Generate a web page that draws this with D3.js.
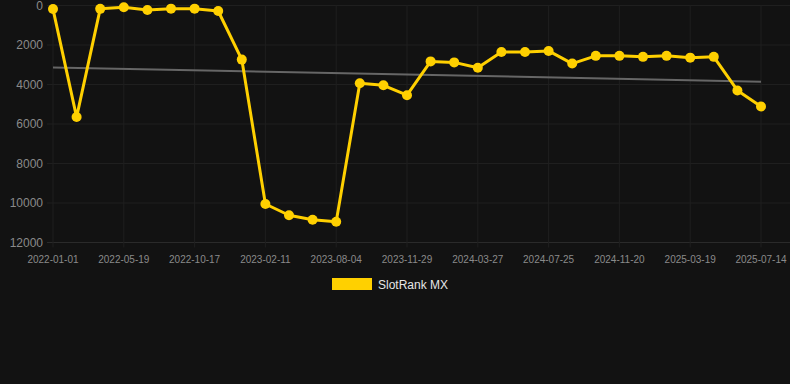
<!DOCTYPE html>
<html>
<head>
<meta charset="utf-8">
<script src="https://cdn.jsdelivr.net/npm/d3@7"></script>
<style>
  html, body { margin: 0; padding: 0; background: #121212; }
  svg { display: block; font-family: "Liberation Sans", Arial, sans-serif; }
</style>
</head>
<body>
<svg id="svg"></svg>
<script>
const W = 790, H = 384;

// categories (only every third one is labelled on the axis)
const dates = [
  "2022-01-01", "2022-02-16", "2022-04-03", "2022-05-19", "2022-07-08", "2022-08-27",
  "2022-10-17", "2022-11-25", "2023-01-03", "2023-02-11", "2023-04-09", "2023-06-06",
  "2023-08-04", "2023-09-12", "2023-10-21", "2023-11-29", "2024-01-07", "2024-02-17",
  "2024-03-27", "2024-05-06", "2024-06-15", "2024-07-25", "2024-09-03", "2024-10-12",
  "2024-11-20", "2024-12-30", "2025-02-07", "2025-03-19", "2025-04-27", "2025-06-05",
  "2025-07-14"
];
const rankMX = [
  180, 5650, 170, 90, 230, 160, 160, 280, 2740, 10050, 10620, 10850,
  10950, 3940, 4040, 4540, 2830, 2880, 3150, 2350, 2350, 2300, 2940, 2550,
  2550, 2600, 2550, 2640, 2600, 4300, 5110
];
const yTicks = [0, 2000, 4000, 6000, 8000, 10000, 12000];
const seriesName = "SlotRank MX";

document.addEventListener("DOMContentLoaded", function () {
  const svg = d3.select("#svg").attr("width", W).attr("height", H);

  const x = d3.scalePoint().domain(dates).range([53, 761]);
  const y = d3.scaleLinear().domain([0, 12000]).range([5.5, 242.5]);
  const labelled = dates.filter((d, i) => i % 3 === 0);

  // grid
  svg.append("g").selectAll("line").data(yTicks).join("line")
    .attr("x1", 47).attr("x2", W)
    .attr("y1", d => y(d)).attr("y2", d => y(d))
    .attr("stroke", d => d === 12000 ? "#2a2a2a" : "#1f1f1f")
    .attr("stroke-width", 1);
  svg.append("g").selectAll("line").data(labelled).join("line")
    .attr("x1", d => x(d)).attr("x2", d => x(d))
    .attr("y1", y(0)).attr("y2", y(12000) + 5)
    .attr("stroke", "#1f1f1f")
    .attr("stroke-width", 1);

  // y labels
  svg.append("g").selectAll("text").data(yTicks).join("text")
    .attr("x", 43).attr("y", d => y(d))
    .attr("dy", "0.35em")
    .attr("text-anchor", "end")
    .attr("fill", "#8a8a8a")
    .attr("font-size", 12)
    .text(d => d);

  // x labels
  svg.append("g").selectAll("text").data(labelled).join("text")
    .attr("x", d => x(d)).attr("y", 263)
    .attr("text-anchor", "middle")
    .attr("fill", "#8a8a8a")
    .attr("font-size", 10)
    .text(d => d);

  // trend line (least squares over category index)
  const n = rankMX.length;
  const mx = d3.mean(rankMX, (d, i) => i);
  const my = d3.mean(rankMX);
  const slope = d3.sum(rankMX, (d, i) => (i - mx) * (d - my)) / d3.sum(rankMX, (d, i) => (i - mx) * (i - mx));
  const icpt = my - slope * mx;
  svg.append("line")
    .attr("x1", x(dates[0])).attr("x2", x(dates[n - 1]))
    .attr("y1", y(icpt)).attr("y2", y(icpt + slope * (n - 1)))
    .attr("stroke", "#666666")
    .attr("stroke-width", 2);

  // series
  const line = d3.line().x((d, i) => x(dates[i])).y(d => y(d));
  svg.append("path")
    .attr("d", line(rankMX))
    .attr("fill", "none")
    .attr("stroke", "#ffd000")
    .attr("stroke-width", 3)
    .attr("stroke-linejoin", "round");
  svg.append("g").selectAll("circle").data(rankMX).join("circle")
    .attr("cx", (d, i) => x(dates[i]))
    .attr("cy", d => y(d))
    .attr("r", 5)
    .attr("fill", "#ffd000");

  // legend
  const leg = svg.append("g");
  leg.append("rect")
    .attr("x", 332).attr("y", 278)
    .attr("width", 40).attr("height", 12)
    .attr("fill", "#ffd000");
  leg.append("text")
    .attr("x", 378).attr("y", 289)
    .attr("fill", "#e6e6e6")
    .attr("font-size", 12)
    .text(seriesName);
});
</script>
</body>
</html>
